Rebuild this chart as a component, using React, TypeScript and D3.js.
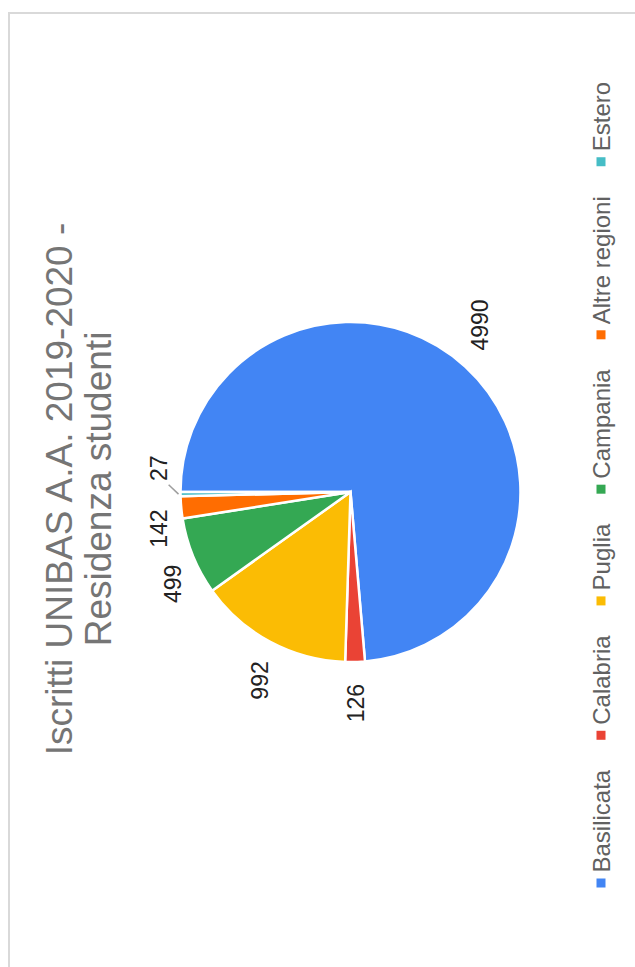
import React from "react";
import * as d3 from "d3";

const categories = ["Basilicata", "Calabria", "Puglia", "Campania", "Altre regioni", "Estero"];
const values = [4990, 126, 992, 499, 142, 27];
const colors = ["#4285F4", "#EA4335", "#FBBC04", "#34A853", "#FF6D01", "#46BDC6"];
const titleLines = ["Iscritti UNIBAS A.A. 2019-2020 -", "Residenza studenti"];

const W = 635;
const H = 967;
const FONT = "'Liberation Sans', Arial, sans-serif";

function textWidth(s: string, size: number): number {
  const c = document.createElement("canvas").getContext("2d");
  if (!c) return s.length * size * 0.5;
  c.font = `${size}px ${FONT}`;
  return c.measureText(s).width;
}

export default function App() {
  const cx = 350.5;
  const cy = 492;
  const r = 170;
  const labelR = 192;
  const labelSize = 23;

  const pie = d3
    .pie<number>()
    .sort(null)
    .value((d) => d)
    .startAngle(-Math.PI / 2)
    .endAngle((3 * Math.PI) / 2);
  const arcs = pie(values);
  const arc = d3.arc<d3.PieArcDatum<number>>().innerRadius(0).outerRadius(r);

  const pt = (a: number, R: number) => [cx + R * Math.sin(a), cy - R * Math.cos(a)];

  type Lab = { x: number; y: number; anchor: string; y0: number; y1: number; leader?: number[][] };
  const labels: Lab[] = [];
  arcs.forEach((a, i) => {
    const mid = (a.startAngle + a.endAngle) / 2;
    const txt = String(values[i]);
    const w = textWidth(txt, labelSize);
    let [x, y] = pt(mid, labelR);
    let anchor = y < cy ? "start" : "end";
    let y0 = anchor === "start" ? y - w : y;
    let y1 = anchor === "start" ? y : y + w;
    let leader: number[][] | undefined;
    const prev = labels[labels.length - 1];
    if (prev && Math.abs(prev.x - x) < labelSize && y1 > prev.y0 - 2 && y0 < prev.y1 + 2) {
      const shifted = mid + (4 * Math.PI) / 180;
      [x, y] = pt(shifted, labelR);
      anchor = "start";
      y0 = y - w;
      y1 = y;
      leader = [pt(mid, r + 2), pt(mid + (3 * Math.PI) / 180, r + 12)];
    }
    labels.push({ x, y, anchor, y0, y1, leader });
  });

  const legSize = 24;
  const sq = 9;
  const legX = 601;
  const legend: { sy: number; ty: number }[] = [];
  let cur = 883;
  categories.forEach((c) => {
    const sy = cur;
    const ty = sy - sq / 2 - 6;
    legend.push({ sy, ty });
    cur = ty - textWidth(c, legSize) - 30 - sq / 2;
  });

  const titleY = 489;
  const titleX = [72, 111];

  return (
    <svg
      width={W}
      height={H}
      style={{ position: "fixed", left: 0, top: 0, display: "block", background: "#fff" }}
      fontFamily={FONT}
    >
      <rect x={9} y={13} width={W + 20} height={H + 20} fill="#fff" stroke="#d9d9d9" strokeWidth={2} />
      {titleLines.map((t, i) => (
        <text
          key={t}
          transform={`translate(${titleX[i]},${titleY}) rotate(-90)`}
          textAnchor="middle"
          fontSize={37}
          fill="#757575"
        >
          {t}
        </text>
      ))}
      <g transform={`translate(${cx},${cy})`}>
        {arcs.map((a, i) => (
          <path key={categories[i]} d={arc(a) || ""} fill={colors[i]} stroke="#fff" strokeWidth={2.5} />
        ))}
      </g>
      {labels.map((l, i) => (
        <g key={"l" + i}>
          {l.leader && (
            <line
              x1={l.leader[0][0]}
              y1={l.leader[0][1]}
              x2={l.leader[1][0]}
              y2={l.leader[1][1]}
              stroke="#9e9e9e"
              strokeWidth={1.5}
            />
          )}
          <text
            transform={`translate(${l.x},${l.y}) rotate(-90)`}
            textAnchor={l.anchor}
            dominantBaseline="central"
            fontSize={labelSize}
            fill="#222"
          >
            {values[i]}
          </text>
        </g>
      ))}
      {legend.map((g, i) => (
        <g key={"g" + i}>
          <rect x={legX - sq / 2} y={g.sy - sq / 2} width={sq} height={sq} fill={colors[i]} />
          <text
            transform={`translate(${legX},${g.ty}) rotate(-90)`}
            textAnchor="start"
            dominantBaseline="central"
            fontSize={legSize}
            fill="#616161"
          >
            {categories[i]}
          </text>
        </g>
      ))}
    </svg>
  );
}
